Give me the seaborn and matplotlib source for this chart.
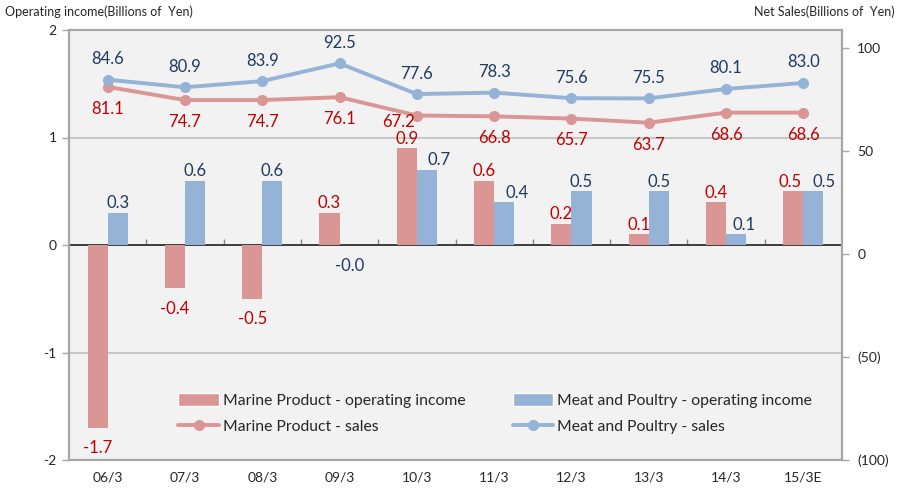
import numpy as np
import pandas as pd
import matplotlib
matplotlib.use("Agg")
import matplotlib.pyplot as plt
import seaborn as sns
from matplotlib.patches import Patch
from matplotlib.lines import Line2D

years = ["06/3", "07/3", "08/3", "09/3", "10/3", "11/3", "12/3", "13/3", "14/3", "15/3E"]
marine_income = [-1.7, -0.4, -0.5, 0.3, 0.9, 0.6, 0.2, 0.1, 0.4, 0.5]
meat_income = [0.3, 0.6, 0.6, -0.004, 0.7, 0.4, 0.5, 0.5, 0.1, 0.5]
marine_sales = [81.1, 74.7, 74.7, 76.1, 67.2, 66.8, 65.7, 63.7, 68.6, 68.6]
meat_sales = [84.6, 80.9, 83.9, 92.5, 77.6, 78.3, 75.6, 75.5, 80.1, 83.0]
left_ticks = [-2, -1, 0, 1, 2]
right_ticks = [-100, -50, 0, 50, 100]
right_labels = ["(100)", "(50)", "0", "50", "100"]

RED_FILL = "#D99694"
BLUE_FILL = "#95B3D7"
RED_TXT = "#C00000"
BLUE_TXT = "#1F3A60"
GREY = "#A6A6A6"

sns.set_theme(style="white")
plt.rcParams["font.family"] = ["Lato", "DejaVu Sans"]

inc = pd.DataFrame({
    "year": years * 2,
    "value": marine_income + meat_income,
    "seg": ["Marine"] * len(years) + ["Meat"] * len(years),
})
idx = np.arange(len(years))
sal = pd.DataFrame({
    "pos": np.concatenate([idx, idx]),
    "value": marine_sales + meat_sales,
    "seg": ["Marine"] * len(years) + ["Meat"] * len(years),
})

fig = plt.figure(figsize=(9.11, 4.88), dpi=100)
ax = fig.add_axes([69 / 911, 28 / 488, 773 / 911, 430 / 488])
ax.set_facecolor("#F2F2F2")

sns.barplot(data=inc, x="year", y="value", hue="seg", hue_order=["Marine", "Meat"],
            palette=[RED_FILL, BLUE_FILL], width=0.52, saturation=1, legend=False,
            linewidth=0, ax=ax)

bar_texts = []
for cont, vals, col in zip(ax.containers, [marine_income, meat_income], [RED_TXT, BLUE_TXT]):
    pos_lab = [f"{v:.1f}" if v >= 0 else "" for v in vals]
    neg_lab = [f"{v:.1f}" if v < 0 else "" for v in vals]
    t1 = ax.bar_label(cont, labels=pos_lab, padding=1, color=col, fontsize=12)
    ax.bar_label(cont, labels=neg_lab, padding=9, color=col, fontsize=12)
    bar_texts.append(t1)
# labels that the original nudges sideways to avoid collisions
bar_texts[0][9].xyann = (-2, 1)
for i, dx in [(4, 9), (5, 9), (8, 6), (9, 8)]:
    bar_texts[1][i].xyann = (dx, 1)

ax.set_ylim(-2, 2)
ax.set_yticks(left_ticks)
ax.set_yticklabels([str(t) for t in left_ticks], fontsize=10)
ax.set_xlim(-0.5, len(years) - 0.5)
ax.set_xlabel("")
ax.set_ylabel("")
ax.tick_params(axis="x", length=0, pad=8, labelsize=10)
ax.tick_params(axis="y", length=5, width=1, color=GREY, direction="out", pad=4, left=True)
for y in [-1, 1]:
    ax.axhline(y, color="#BFBFBF", lw=1.2, zorder=0)
for s in ax.spines.values():
    s.set_color(GREY)
    s.set_linewidth(1.5)

# zero line with category separators
zero = ax.secondary_xaxis(0.5)
zero.set_xticks(idx[:-1] + 0.5)
zero.set_xticklabels([])
zero.tick_params(length=4, width=1, color="#868686", direction="out")
zero.spines["bottom"].set_color("#868686")
zero.spines["bottom"].set_linewidth(1.8)

ax2 = ax.twinx()
sns.lineplot(data=sal, x="pos", y="value", hue="seg", hue_order=["Marine", "Meat"],
             palette=[RED_FILL, BLUE_FILL], marker="o", markersize=8, markeredgewidth=0,
             linewidth=2.8, legend=False, ax=ax2)
ax2.set_ylim(-100, 108.7)
ax2.set_yticks(right_ticks)
ax2.set_yticklabels(right_labels, fontsize=10)
ax2.set_ylabel("")
ax2.set_xlim(-0.5, len(years) - 0.5)
ax2.tick_params(axis="y", length=5, width=1, color=GREY, direction="out", pad=6, right=True)
for s in ax2.spines.values():
    s.set_color(GREY)
    s.set_linewidth(1.5)

for i, (a, b) in enumerate(zip(marine_sales, meat_sales)):
    if i == 4:
        # label squeezed to the left of the point in the original
        ax2.annotate(f"{a:.1f}", (i, a), xytext=(-13, -5), textcoords="offset points",
                     ha="center", va="center", color=RED_TXT, fontsize=12)
    else:
        ax2.annotate(f"{a:.1f}", (i, a), xytext=(0, -10), textcoords="offset points",
                     ha="center", va="top", color=RED_TXT, fontsize=12)
    ax2.annotate(f"{b:.1f}", (i, b), xytext=(0, 9), textcoords="offset points",
                 ha="center", va="bottom", color=BLUE_TXT, fontsize=12)

handles = [
    Patch(facecolor=RED_FILL, label="Marine Product - operating income"),
    Line2D([], [], color=RED_FILL, lw=2.8, marker="o", markersize=7, label="Marine Product - sales"),
    Patch(facecolor=BLUE_FILL, label="Meat and Poultry - operating income"),
    Line2D([], [], color=BLUE_FILL, lw=2.8, marker="o", markersize=7, label="Meat and Poultry - sales"),
]
ax2.legend(handles=handles, ncol=2, loc="lower left", bbox_to_anchor=(164 / 911, 40 / 488),
           bbox_transform=fig.transFigure, frameon=False, fontsize=11.3, handlelength=2.6,
           handleheight=0.9, columnspacing=3.0, labelspacing=0.7, handletextpad=0.25)

fig.text(5 / 911, 1 - 12 / 488, "Operating income(Billions of  Yen)", fontsize=9, va="center", ha="left")
fig.text(895 / 911, 1 - 12 / 488, "Net Sales(Billions of  Yen)", fontsize=9, va="center", ha="right")

fig.savefig("out.png", dpi=100, facecolor="white")
